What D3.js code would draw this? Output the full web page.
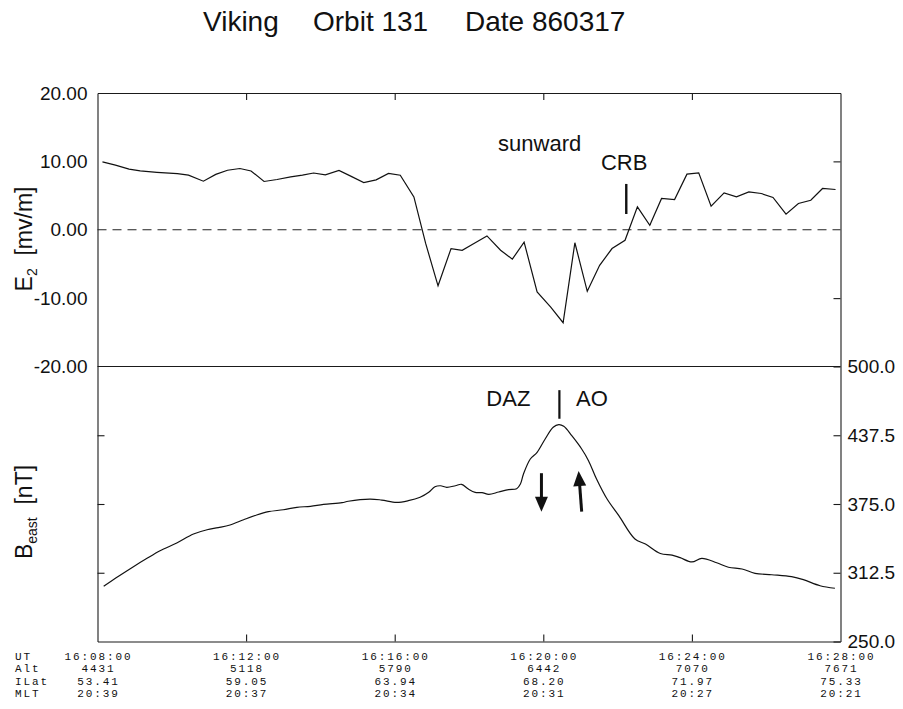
<!DOCTYPE html>
<html>
<head>
<meta charset="utf-8">
<script src="https://cdn.jsdelivr.net/npm/d3@7"></script>
<style>
  html, body { margin: 0; padding: 0; background: #fff; }
  svg { display: block; }
  text { fill: #111; }
</style>
</head>
<body>
<script>
// ---- Data -------------------------------------------------------------
// Time is seconds after 16:08:00 UT.
const eTimes = [8, 29, 51, 69, 96, 129, 147, 171, 191, 210, 230, 248, 269, 290, 312, 331, 349, 368, 390, 409,
  430, 450, 470, 489, 511, 530, 550, 571, 589, 608, 629, 651, 670, 689, 710, 732, 752, 771, 791, 811,
  831, 852, 872, 892, 911, 932, 952, 971, 991, 1012, 1032, 1052, 1072, 1091, 1112, 1132, 1152, 1171, 1192];
// Electric field component E2 [mV/m]
const eValues = [9.93, 9.45, 8.86, 8.6, 8.4, 8.2, 7.98, 7.1, 8.1, 8.7, 8.96, 8.6, 7.06, 7.35, 7.74, 7.98, 8.3, 8.03, 8.67, 7.84,
  6.9, 7.3, 8.23, 7.98, 4.8, -2.0, -8.2, -2.75, -3.0, -2.0, -0.9, -3.0, -4.3, -1.8, -9.1, -11.3, -13.6, -1.9, -9.0, -5.2,
  -2.75, -1.54, 3.34, 0.66, 4.57, 4.42, 8.13, 8.32, 3.44, 5.39, 4.81, 5.54, 5.3, 4.72, 2.27, 3.84, 4.32, 6.04, 5.89];

const bTimes = [10, 34, 58, 80, 101, 128, 155, 177, 195, 214, 236, 257, 276, 300, 322, 344, 365, 395, 405, 440,
  459, 483, 502, 521, 535, 545, 554, 564, 578, 588, 599, 610, 621, 632, 648, 664, 677, 683, 688, 699,
  710, 723, 736, 745, 753, 766, 782, 793, 806, 823, 842, 868, 885, 909, 928, 941, 960, 976, 1000, 1019,
  1041, 1062, 1089, 1121, 1140, 1167, 1191];
// Magnetic field east component [nT]
const bValues = [300.2, 309.3, 318.0, 325.6, 332.5, 339.5, 347.7, 351.6, 353.5, 355.9, 360.7, 365.0, 368.0, 369.8, 372.0, 372.9, 374.7, 376.2, 377.5, 379.5,
  378.6, 376.5, 378.0, 381.1, 385.6, 390.7, 391.6, 390.2, 391.6, 392.9, 388.6, 385.6, 385.3, 383.8, 385.9, 388.0, 388.9, 393.2, 402.3, 415.9,
  422.0, 434.1, 444.7, 447.1, 445.6, 437.1, 425.0, 414.4, 397.7, 379.5, 364.4, 343.2, 338.6, 330.0, 328.6, 326.2, 322.3, 325.6, 321.6, 317.5,
  315.9, 312.0, 310.7, 308.9, 306.2, 300.7, 298.4];

// Axis ticks
const eTickValues = [20, 10, 0, -10, -20];
const eTickLabels = ["20.00", "10.00", "0.00", "-10.00", "-20.00"];
const bTickValues = [500, 437.5, 375, 312.5, 250];
const bTickLabels = ["500.0", "437.5", "375.0", "312.5", "250.0"];
const timeTicks = [0, 240, 480, 720, 960, 1200];

// Orbit table under the time axis
const rowNames = ["UT", "Alt", "ILat", "MLT"];
const utLabels = ["16:08:00", "16:12:00", "16:16:00", "16:20:00", "16:24:00", "16:28:00"];
const altValues = ["4431", "5118", "5790", "6442", "7070", "7671"];
const ilatValues = ["53.41", "59.05", "63.94", "68.20", "71.97", "75.33"];
const mltValues = ["20:39", "20:37", "20:34", "20:31", "20:27", "20:21"];

// Title pieces
const titleParts = ["Viking", "Orbit 131", "Date 860317"];

// Event annotations (time in s, value in panel units)
const crbMark = { t: 854, from: 2.3, to: 6.7 };
const dazMark = { t: 746, from: 452.5, to: 478.5 };
const downArrow = { t0: 717, v0: 403, t1: 717, v1: 368 };
const upArrow = { t0: 782, v0: 368, t1: 777, v1: 405 };

// ---- Layout ------------------------------------------------------------
const W = 903, H = 709;
const left = 97.5, right = 840.5;
const topY = 93, midY = 366.5, botY = 641.5;
const sans = "'Liberation Sans', Arial, Helvetica, sans-serif";
const mono = "'Liberation Mono', 'Courier New', monospace";

const svg = d3.select("body").append("svg").attr("width", W).attr("height", H)
  .attr("font-family", sans);

const x = d3.scaleLinear().domain([0, 1200]).range([left, right]);
const yE = d3.scaleLinear().domain([-20, 20]).range([midY, topY]);
const yB = d3.scaleLinear().domain([250, 500]).range([botY, midY]);

// Title
const titleX = [203, 313, 465];
svg.append("g").selectAll("text").data(titleParts).join("text")
  .attr("x", (d, i) => titleX[i]).attr("y", 31)
  .attr("font-size", 28).text(d => d);

function styleAxis(g, size) {
  g.attr("font-family", sans).attr("font-size", size);
  g.selectAll("path.domain, line").attr("stroke", "#1a1a1a").attr("stroke-width", 1.1);
  g.selectAll("text").attr("fill", "#111");
}

// Top time-axis ticks (pointing down into the panel)
svg.append("g").attr("transform", `translate(0,${topY})`)
  .call(d3.axisBottom(x).tickValues(timeTicks.slice(1, -1)).tickSizeInner(7).tickSizeOuter(0).tickFormat(""))
  .call(g => styleAxis(g, 10));

// Bottom time-axis ticks (pointing up)
svg.append("g").attr("transform", `translate(0,${botY})`)
  .call(d3.axisTop(x).tickValues(timeTicks.slice(1, -1)).tickSizeInner(7).tickSizeOuter(0).tickFormat(""))
  .call(g => styleAxis(g, 10));

// Panel separator
svg.append("line").attr("x1", left).attr("x2", right).attr("y1", midY).attr("y2", midY)
  .attr("stroke", "#1a1a1a").attr("stroke-width", 1.1);

// E2 axis (left, labelled)
svg.append("g").attr("transform", `translate(${left},0)`)
  .call(d3.axisLeft(yE).tickValues(eTickValues).tickSize(0).tickPadding(10)
    .tickFormat((d, i) => eTickLabels[i]))
  .call(g => styleAxis(g, 19));

// E2 axis (right, ticks only)
svg.append("g").attr("transform", `translate(${right},0)`)
  .call(d3.axisRight(yE).tickValues([10, -10]).tickSizeInner(-7).tickSizeOuter(0).tickFormat(""))
  .call(g => styleAxis(g, 10));

// B axis (left, ticks only)
svg.append("g").attr("transform", `translate(${left},0)`)
  .call(d3.axisRight(yB).tickValues([437.5, 375, 312.5]).tickSizeInner(7).tickSizeOuter(0).tickFormat(""))
  .call(g => styleAxis(g, 10));

// B axis (right, labelled)
svg.append("g").attr("transform", `translate(${right},0)`)
  .call(d3.axisRight(yB).tickValues(bTickValues).tickSizeInner(-7).tickSizeOuter(0).tickPadding(7)
    .tickFormat((d, i) => bTickLabels[i]))
  .call(g => styleAxis(g, 19));

// Zero reference line
svg.append("line").attr("x1", x(0)).attr("x2", x(1200)).attr("y1", yE(0)).attr("y2", yE(0))
  .attr("stroke", "#222").attr("stroke-width", 1).attr("stroke-dasharray", "9,6");

// E2 trace
const eData = eTimes.map((t, i) => [t, eValues[i]]);
svg.append("path").datum(eData)
  .attr("fill", "none").attr("stroke", "#111").attr("stroke-width", 1.2)
  .attr("d", d3.line().x(d => x(d[0])).y(d => yE(d[1])));

// B_east trace
const bData = bTimes.map((t, i) => [t, bValues[i]]);
svg.append("path").datum(bData)
  .attr("fill", "none").attr("stroke", "#111").attr("stroke-width", 1.2)
  .attr("d", d3.line().curve(d3.curveCatmullRom.alpha(0.5)).x(d => x(d[0])).y(d => yB(d[1])));

// Axis titles
const eLabel = svg.append("text").attr("transform", "translate(32,239) rotate(-90)")
  .attr("text-anchor", "middle").attr("font-size", 23);
eLabel.append("tspan").text("E");
eLabel.append("tspan").attr("font-size", 14).attr("dy", 5).text("2");
eLabel.append("tspan").attr("dy", -5).text("\u00a0\u00a0[mv/m]");

const bLabel = svg.append("text").attr("transform", "translate(32,512) rotate(-90)")
  .attr("text-anchor", "middle").attr("font-size", 23);
bLabel.append("tspan").text("B");
bLabel.append("tspan").attr("font-size", 14).attr("dy", 5).text("east");
bLabel.append("tspan").attr("dy", -5).text("\u00a0\u00a0[nT]");

// Annotations
svg.append("text").attr("x", x(647)).attr("y", yE(11.5)).attr("font-size", 22).text("sunward");
svg.append("text").attr("x", x(813)).attr("y", yE(8.7)).attr("font-size", 22).text("CRB");
svg.append("line").attr("x1", x(crbMark.t)).attr("x2", x(crbMark.t))
  .attr("y1", yE(crbMark.to)).attr("y2", yE(crbMark.from))
  .attr("stroke", "#111").attr("stroke-width", 2.4);

svg.append("text").attr("x", x(628)).attr("y", yB(464.5)).attr("font-size", 22).text("DAZ");
svg.append("text").attr("x", x(773)).attr("y", yB(464.5)).attr("font-size", 22).text("AO");
svg.append("line").attr("x1", x(dazMark.t)).attr("x2", x(dazMark.t))
  .attr("y1", yB(dazMark.to)).attr("y2", yB(dazMark.from))
  .attr("stroke", "#111").attr("stroke-width", 2.2);

function arrow(a) {
  const x0 = x(a.t0), y0 = yB(a.v0), x1 = x(a.t1), y1 = yB(a.v1);
  const dx = x1 - x0, dy = y1 - y0, len = Math.hypot(dx, dy);
  const ux = dx / len, uy = dy / len;
  const headL = 15, headW = 6.5;
  const bx = x1 - ux * headL, by = y1 - uy * headL;
  svg.append("line").attr("x1", x0).attr("y1", y0).attr("x2", bx + ux).attr("y2", by + uy)
    .attr("stroke", "#111").attr("stroke-width", 3);
  svg.append("path")
    .attr("d", `M${x1},${y1} L${bx - uy * headW},${by + ux * headW} L${bx + uy * headW},${by - ux * headW} Z`)
    .attr("fill", "#111");
}
arrow(downArrow);
arrow(upArrow);

// Orbit table: compact monospace rows
const rowY = [659.5, 672, 684.5, 697];
const letterGap = 1.9;
const table = svg.append("g").attr("font-family", mono).attr("font-size", 11)
  .attr("letter-spacing", letterGap);
table.selectAll("text.name").data(rowNames).join("text").attr("class", "name")
  .attr("x", 15).attr("y", (d, i) => rowY[i]).text(d => d);
[utLabels, altValues, ilatValues, mltValues].forEach((row, r) => {
  table.selectAll(`text.r${r}`).data(row).join("text").attr("class", `r${r}`)
    .attr("x", (d, i) => x(timeTicks[i]) + letterGap / 2).attr("y", rowY[r])
    .attr("text-anchor", "middle").text(d => d);
});
</script>
</body>
</html>
